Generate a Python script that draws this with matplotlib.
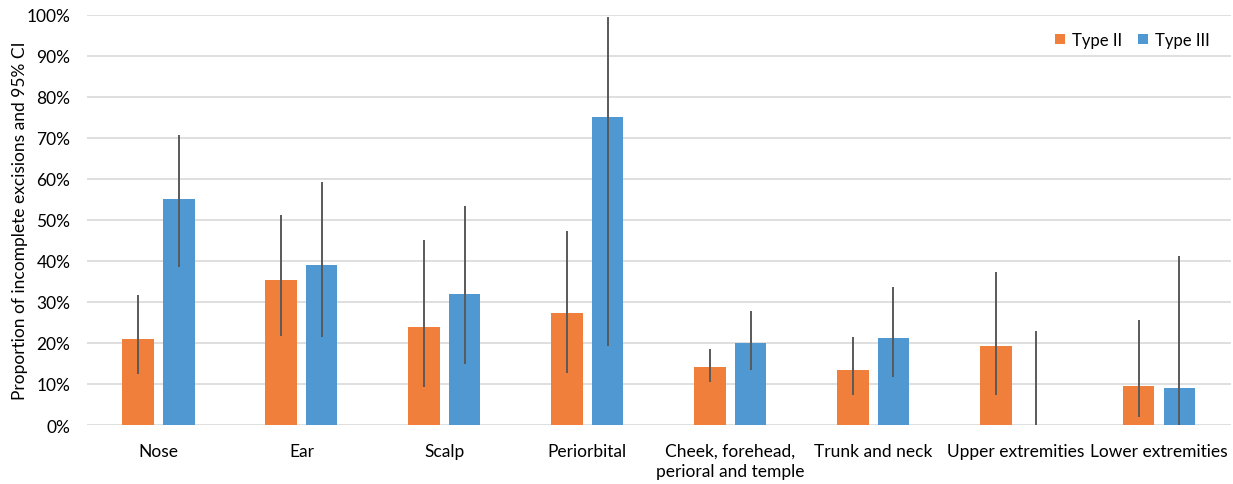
import matplotlib
matplotlib.use("Agg")
import matplotlib.pyplot as plt
import numpy as np
from matplotlib.ticker import PercentFormatter

categories = ["Nose", "Ear", "Scalp", "Periorbital", "Cheek, forehead,\nperioral and temple",
              "Trunk and neck", "Upper extremities", "Lower extremities"]
type2 = [21.0, 35.4, 23.8, 27.4, 14.1, 13.4, 19.3, 9.6]
type2_lo = [12.4, 21.8, 9.3, 12.7, 10.6, 7.4, 7.3, 2.0]
type2_hi = [31.8, 51.1, 45.1, 47.2, 18.5, 21.5, 37.4, 25.6]
type3 = [55.0, 39.1, 31.9, 75.0, 19.9, 21.1, 0.0, 9.0]
type3_lo = [38.6, 21.5, 14.9, 19.3, 13.4, 11.8, 0.0, 0.0]
type3_hi = [70.7, 59.3, 53.4, 99.4, 27.7, 33.6, 23.0, 41.2]

plt.rcParams['font.family'] = ['Lato', 'DejaVu Sans']

fig = plt.figure(figsize=(12.33, 4.85), dpi=100)
ax = fig.add_axes([0.0706, 0.1216, 0.9274, 0.846])

x = np.arange(len(categories))
w = 0.22
off = 0.142
c2 = "#EF7F3B"
c3 = "#4F98D2"
ecol = "#595959"

t2 = np.array(type2); t3 = np.array(type3)
e2 = [t2 - np.array(type2_lo), np.array(type2_hi) - t2]
e3 = [t3 - np.array(type3_lo), np.array(type3_hi) - t3]

ax.bar(x - off, t2, w, color=c2, label="Type II", zorder=2,
       yerr=e2, error_kw=dict(ecolor=ecol, elinewidth=1.4, capsize=0, zorder=3))
ax.bar(x + off, t3, w, color=c3, label="Type III", zorder=2,
       yerr=e3, error_kw=dict(ecolor=ecol, elinewidth=1.4, capsize=0, zorder=3))

ax.set_xlim(-0.5, len(categories) - 0.5)
ax.set_ylim(0, 100)
ax.set_yticks(np.arange(0, 101, 10))
ax.yaxis.set_major_formatter(PercentFormatter(decimals=0))
ax.grid(axis='y', color="#D9D9D9", linewidth=1.2, zorder=0)
ax.set_axisbelow(True)
for s in ax.spines.values():
    s.set_visible(False)
ax.tick_params(axis='both', length=0, labelsize=12.5, colors="#000000")
ax.tick_params(axis='x', pad=13)
ax.tick_params(axis='y', pad=12)
ax.set_xticks(x)
ax.set_xticklabels(categories, va='top', linespacing=1.3)
ax.set_ylabel("Proportion of incomplete excisions and 95% CI", fontsize=12.5, labelpad=-1)

ax.legend(loc='upper right', ncol=2, frameon=False, fontsize=12,
          handlelength=0.6, handleheight=0.6, handletextpad=0.4, columnspacing=1.0,
          bbox_to_anchor=(0.995, 0.995))

fig.savefig("out.png", dpi=100)
